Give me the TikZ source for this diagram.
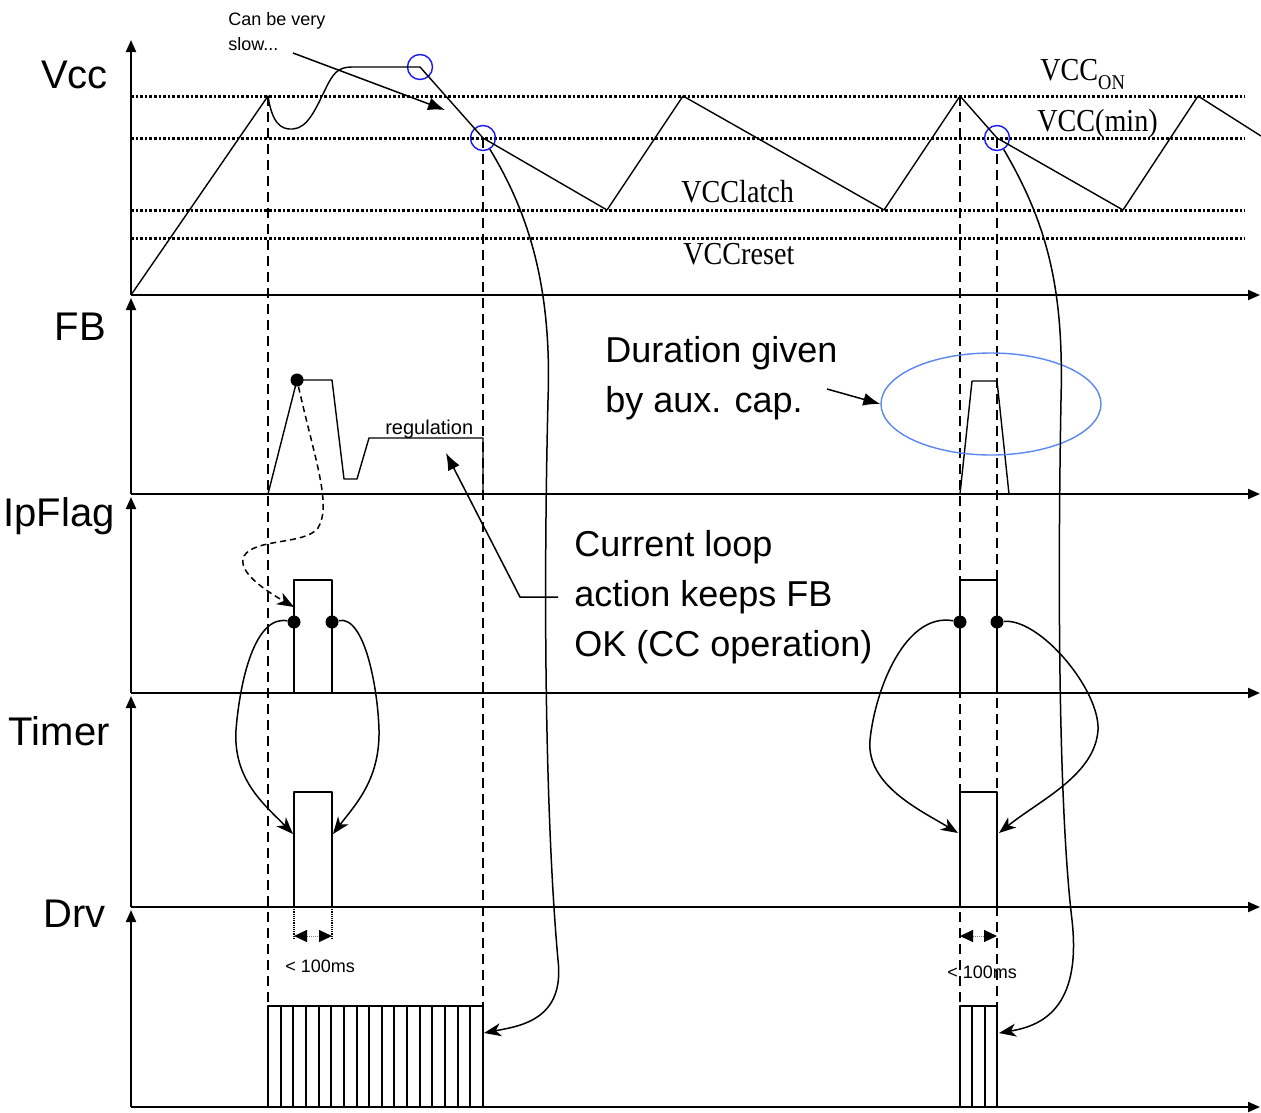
\documentclass[tikz,border=0pt]{standalone}
\usepackage{fontspec}
\setmainfont{Liberation Sans}
\newfontfamily\levelfont{Liberation Serif}[FakeStretch=0.88]
\usetikzlibrary{arrows.meta,positioning,shapes.geometric}

\definecolor{ringblue}{RGB}{25,25,245}
\definecolor{capblue}{RGB}{90,135,240}

\begin{document}
\begin{tikzpicture}[
    x = 1pt, y = -1pt, % one unit per pixel, y runs downward
    line join = round,
    semithick % line style
    ]

    \tikzset{
    axis/.style = {line width=2pt, -{Triangle[length=12pt,width=10pt]}},
    level/.style = {line width=3pt, dash pattern=on 2.6pt off 2pt},
    guide/.style = {line width=1.4pt, dash pattern=on 10pt off 6pt},
    wave/.style = {line width=1.4pt},
    note/.style = {line width=1.5pt, -{Latex[length=17pt,width=13pt]}},
    curvearrow/.style = {line width=1.5pt, -{Stealth[length=17pt,width=13pt,inset=5pt]}},
    span/.style = {draw=gray, densely dotted, line width=1pt,
        {Triangle[black,length=13pt,width=12pt]}-{Triangle[black,length=13pt,width=12pt]}},
    ring/.style = {circle, draw=ringblue, line width=1.4pt, minimum size=25pt, inner sep=0pt},
    sig/.style = {font=\fontsize{40}{40}\selectfont, anchor=base east, inner sep=0pt},
    lvl/.style = {font=\levelfont\fontsize{32}{32}\selectfont, anchor=base west, inner sep=0pt},
    big/.style = {font=\fontsize{36}{50}\selectfont, align=left, anchor=north west, inner sep=0pt},
    small/.style = {font=\fontsize{18}{25}\selectfont, inner sep=0pt},
    dot/.style = {circle, fill=black, inner sep=0pt, minimum size=13pt}
    }

    \useasboundingbox (0,0) rectangle (1261,1112);

    % signal names
    \node[sig] (vcc) at (108,88) {Vcc};
    \node[sig] (fb) at (106,340) {FB};
    \node[sig] (ipflag) at (115,526) {IpFlag};
    \node[sig] (timer) at (110,745) {Timer};
    \node[sig] (drv) at (106,927) {Drv};

    % axes
    \foreach \lo/\hi in {295/40, 494/298, 693/497, 907/696, 1107/910}
        \draw[axis] (131,\lo) -- (131,\hi);
    \foreach \y in {295, 494, 693, 907, 1107}
        \draw[axis] (131,\y) -- (1260,\y);

    % threshold levels
    \foreach \y in {96, 138, 210, 238}
        \draw[level] (131,\y) -- (1245,\y);
    \node[lvl] (von) at (1040,80) {VCC\raisebox{-9pt}{\fontsize{21}{21}\selectfont ON}};
    \node[lvl] (vmin) at (1037,131) {VCC(min)};
    \node[lvl] (vlatch) at (681,202) {VCClatch};
    \node[lvl] (vreset) at (683,264) {VCCreset};

    % time marks
    \foreach \gx/\gy in {268/96, 483/138, 960/96, 997/138}
        \draw[guide] (\gx,\gy) -- (\gx,1006);

    % Vcc
    \node[ring] (c1) at (420,67) {};
    \node[ring] (c2) at (483,138) {};
    \node[ring] (c3) at (997,138) {};
    \draw[wave] (131,295) -- (268,96) .. controls (272,122) and (280,130) .. (293,129)
        .. controls (308,128) and (316,108) .. (325,90) .. controls (333,73) and (338,67) .. (352,67)
        -- (c1.center) -- (c2.center) -- (607,210) -- (683,96) -- (884,210) -- (960,96)
        -- (c3.center) -- (1123,210) -- (1198,96) -- (1261,136);

    % FB
    \node[dot] (f1) at (297,380) {};
    \draw[wave] (268,494) -- (f1.center) -- (332,380) -- (344,479) -- (357,479)
        -- (369,438) -- (483,438) -- (483,494);
    \draw[wave] (960,494) -- (972,381) -- (997,381) -- (1009,494);
    \node[small, font=\fontsize{20}{20}\selectfont, anchor=base west] (regul) at (385,434) {regulation};
    \node[ellipse, draw=capblue, line width=1.4pt, minimum width=220pt, minimum height=102pt,
        inner sep=0pt] (cap) at (991,404) {};

    % IpFlag
    \draw[wave] (294,693) -- (294,580) -- (332,580) -- (332,693);
    \draw[wave] (960,693) -- (960,580) -- (997,580) -- (997,693);
    \node[dot] (d1) at (294,622) {};
    \node[dot] (d2) at (332,622) {};
    \node[dot] (d3) at (960,622) {};
    \node[dot] (d4) at (997,622) {};

    % Timer
    \draw[wave] (294,907) -- (294,792) -- (332,792) -- (332,907);
    \draw[wave] (960,907) -- (960,792) -- (997,792) -- (997,907);
    \coordinate (t1) at (293,834);
    \coordinate (t2) at (333,834);
    \coordinate (t3) at (958,833);
    \coordinate (t4) at (999,833);

    % Drv
    \draw[wave] (268,1107) -- (268,1006) -- (483,1006) -- (483,1107);
    \foreach \i in {1,...,16}
        \draw[line width=1.2pt] ({268+round(12.65*\i)},1006) -- ({268+round(12.65*\i)},1107);
    \draw[wave] (960,1107) -- (960,1006) -- (997,1006) -- (997,1107);
    \draw[line width=1.2pt] (972,1006) -- (972,1107) (985,1006) -- (985,1107);
    \coordinate (g1) at (484,1033);
    \coordinate (g2) at (999,1033);

    % < 100ms
    \draw[densely dotted, line width=1.2pt] (294,907) -- (294,938) (332,907) -- (332,938);
    \draw[span] (294,936) -- (332,936);
    \draw[span] (960,936) -- (997,936);
    \node[small, anchor=base west] (tleft) at (285,972) {< 100ms};
    \node[small, anchor=base west] (tright) at (947,978) {< 100ms};

    % comments
    \node[small, align=left, anchor=north west] (slow) at (228,12) {Can be very\\slow...};
    \coordinate (slowtail) at (293,53);
    \coordinate (slowtip) at (445,110);
    \draw[note] (slowtail) -- (slowtip);

    \node[big] (duration) at (605,336) {Duration given\\by aux. cap.};
    \coordinate (captail) at (827,389);
    \draw[note] (captail) -- (cap.west);

    \node[big] (current) at (574,530) {Current loop\\action keeps FB\\OK (CC operation)};
    \coordinate (regtip) at (446,453);
    \draw[note] ([xshift=-16pt]current.west) -- ++(-38,0) -- (regtip);

    % cause and effect
    \draw[curvearrow, dash pattern=on 6pt off 4pt] (f1) .. controls (315,460) and (332,505) .. (318,528)
        .. controls (305,545) and (255,538) .. (244,556) .. controls (236,572) and (268,592) .. (294,607);
    \draw[curvearrow] (d1) .. controls (255,615) and (240,680) .. (236,730) .. controls (233,780) and (265,805) .. (t1);
    \draw[curvearrow] (d2) .. controls (365,615) and (378,690) .. (379,730) .. controls (380,780) and (355,805) .. (t2);
    \draw[curvearrow] (d3) .. controls (905,612) and (875,690) .. (870,740) .. controls (866,785) and (920,810) .. (t3);
    \draw[curvearrow] (d4) .. controls (1040,618) and (1100,690) .. (1098,730) .. controls (1095,775) and (1040,800) .. (t4);
    \draw[curvearrow] (c2) .. controls (530,215) and (552,290) .. (548,400) .. controls (542,650) and (548,850) .. (558,960)
        .. controls (565,1020) and (520,1026) .. (g1);
    \draw[curvearrow] (c3) .. controls (1048,225) and (1064,290) .. (1061,400) .. controls (1057,620) and (1060,820) .. (1072,920)
        .. controls (1082,1010) and (1040,1026) .. (g2);
\end{tikzpicture}
\end{document}
